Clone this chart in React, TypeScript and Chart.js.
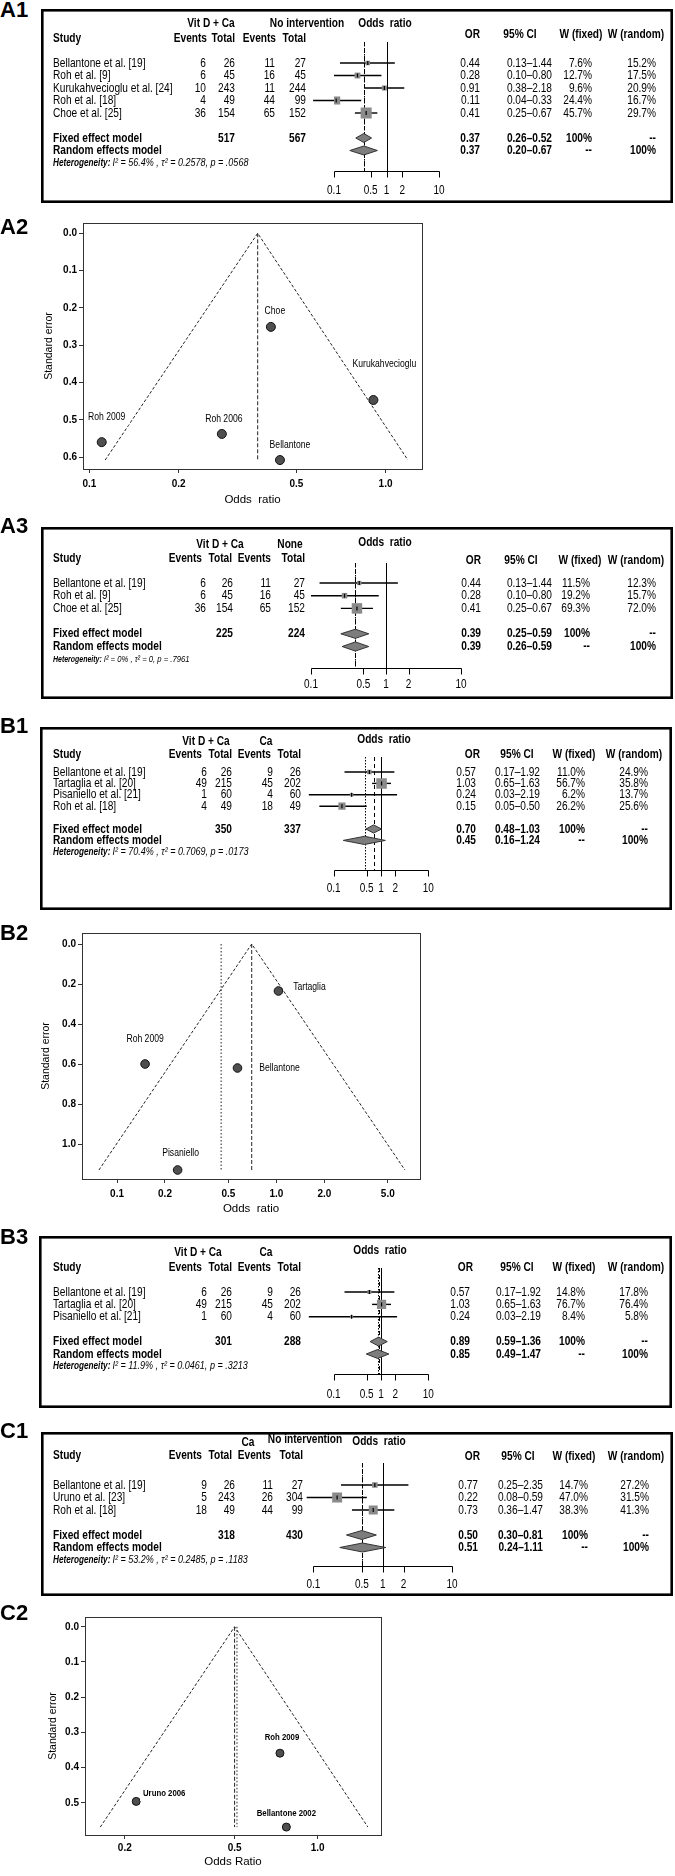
import React, { useEffect, useRef } from "react";
import { Chart, registerables } from "chart.js";

Chart.register(...registerables);

const FONT = '"Liberation Sans", Arial, Helvetica, sans-serif';
Chart.defaults.font.family = FONT;
Chart.defaults.color = "#000";

// ======================= DATA =======================
// ---- A1: Vit D + Ca vs no intervention (forest) ----
const a1Studies = ["Bellantone et al. [19]", "Roh et al. [9]", "Kurukahvecioglu et al. [24]", "Roh et al. [18]", "Choe et al. [25]"];
const a1EventsE = [6, 6, 10, 4, 36];
const a1TotalE = [26, 45, 243, 49, 154];
const a1EventsC = [11, 16, 11, 44, 65];
const a1TotalC = [27, 45, 244, 99, 152];
const a1OR = [0.44, 0.28, 0.91, 0.11, 0.41];
const a1Lower = [0.13, 0.1, 0.38, 0.04, 0.25];
const a1Upper = [1.44, 0.8, 2.18, 0.33, 0.67];
const a1WFixed = [7.6, 12.7, 9.6, 24.4, 45.7];
const a1WRandom = [15.2, 17.5, 20.9, 16.7, 29.7];
const a1Fixed = [0.37, 0.26, 0.52];
const a1Random = [0.37, 0.2, 0.67];
const a1Totals = [517, 567];
const a1Het = "I² = 56.4% , τ² = 0.2578, p = .0568";

// ---- A2: funnel ----
const a2Labels = ["Bellantone", "Roh 2006", "Kurukahvecioglu", "Roh 2009", "Choe"];
const a2OR = [0.44, 0.28, 0.91, 0.11, 0.41];
const a2SE = [0.608, 0.538, 0.447, 0.56, 0.251];
const a2FunnelOR = [0.113, 0.37, 1.19];
const a2FunnelSE = [0.608, 0, 0.608];
const a2Center = [0.37];
const a2XTicks = [0.1, 0.2, 0.5, 1.0];
const a2YTicks = [0, 0.1, 0.2, 0.3, 0.4, 0.5, 0.6];

// ---- A3: Vit D + Ca vs none (forest) ----
const a3Studies = ["Bellantone et al. [19]", "Roh et al. [9]", "Choe et al. [25]"];
const a3EventsE = [6, 6, 36];
const a3TotalE = [26, 45, 154];
const a3EventsC = [11, 16, 65];
const a3TotalC = [27, 45, 152];
const a3OR = [0.44, 0.28, 0.41];
const a3Lower = [0.13, 0.1, 0.25];
const a3Upper = [1.44, 0.8, 0.67];
const a3WFixed = [11.5, 19.2, 69.3];
const a3WRandom = [12.3, 15.7, 72.0];
const a3Fixed = [0.39, 0.25, 0.59];
const a3Random = [0.39, 0.26, 0.59];
const a3Totals = [225, 224];
const a3Het = "I² = 0% , τ² = 0, p = .7961";

// ---- B1: Vit D + Ca vs Ca (forest) ----
const b1Studies = ["Bellantone et al. [19]", "Tartaglia et al. [20]", "Pisaniello et al. [21]", "Roh et al. [18]"];
const b1EventsE = [6, 49, 1, 4];
const b1TotalE = [26, 215, 60, 49];
const b1EventsC = [9, 45, 4, 18];
const b1TotalC = [26, 202, 60, 49];
const b1OR = [0.57, 1.03, 0.24, 0.15];
const b1Lower = [0.17, 0.65, 0.03, 0.05];
const b1Upper = [1.92, 1.63, 2.19, 0.5];
const b1WFixed = [11.0, 56.7, 6.2, 26.2];
const b1WRandom = [24.9, 35.8, 13.7, 25.6];
const b1Fixed = [0.7, 0.48, 1.03];
const b1Random = [0.45, 0.16, 1.24];
const b1Totals = [350, 337];
const b1Het = "I² = 70.4% , τ² = 0.7069, p = .0173";

// ---- B2: funnel ----
const b2Labels = ["Bellantone", "Tartaglia", "Pisaniello", "Roh 2009"];
const b2OR = [0.57, 1.03, 0.24, 0.15];
const b2SE = [0.62, 0.235, 1.13, 0.6];
const b2FunnelOR = [0.077, 0.7, 6.4];
const b2FunnelSE = [1.13, 0, 1.13];
const b2Center = [0.7, 0.45];
const b2XTicks = [0.1, 0.2, 0.5, 1.0, 2.0, 5.0];
const b2YTicks = [0, 0.2, 0.4, 0.6, 0.8, 1.0];

// ---- B3: Vit D + Ca vs Ca (forest) ----
const b3Studies = ["Bellantone et al. [19]", "Tartaglia et al. [20]", "Pisaniello et al. [21]"];
const b3EventsE = [6, 49, 1];
const b3TotalE = [26, 215, 60];
const b3EventsC = [9, 45, 4];
const b3TotalC = [26, 202, 60];
const b3OR = [0.57, 1.03, 0.24];
const b3Lower = [0.17, 0.65, 0.03];
const b3Upper = [1.92, 1.63, 2.19];
const b3WFixed = [14.8, 76.7, 8.4];
const b3WRandom = [17.8, 76.4, 5.8];
const b3Fixed = [0.89, 0.59, 1.36];
const b3Random = [0.85, 0.49, 1.47];
const b3Totals = [301, 288];
const b3Het = "I² = 11.9% , τ² = 0.0461, p = .3213";

// ---- C1: Ca vs no intervention (forest) ----
const c1Studies = ["Bellantone et al. [19]", "Uruno et al. [23]", "Roh et al. [18]"];
const c1EventsE = [9, 5, 18];
const c1TotalE = [26, 243, 49];
const c1EventsC = [11, 26, 44];
const c1TotalC = [27, 304, 99];
const c1OR = [0.77, 0.22, 0.73];
const c1Lower = [0.25, 0.08, 0.36];
const c1Upper = [2.35, 0.59, 1.47];
const c1WFixed = [14.7, 47.0, 38.3];
const c1WRandom = [27.2, 31.5, 41.3];
const c1Fixed = [0.5, 0.3, 0.81];
const c1Random = [0.51, 0.24, 1.11];
const c1Totals = [318, 430];
const c1Het = "I² = 53.2% , τ² = 0.2485, p = .1183";

// ---- C2: funnel ----
const c2Labels = ["Bellantone 2002", "Uruno 2006", "Roh 2009"];
const c2OR = [0.77, 0.22, 0.73];
const c2SE = [0.569, 0.496, 0.359];
const c2FunnelOR = [0.163, 0.5, 1.52];
const c2FunnelSE = [0.569, 0, 0.569];
const c2Center = [0.5, 0.51];
const c2XTicks = [0.2, 0.5, 1.0];
const c2YTicks = [0, 0.1, 0.2, 0.3, 0.4, 0.5];

const forestTicks = [0.1, 0.5, 1, 2, 10];
const forestTickLabels = ["0.1", "0.5", "1", "2", "10"];

const panelLabels: [string, number][] = [
  ["A1", 2], ["A2", 219], ["A3", 518], ["B1", 718], ["B2", 925], ["B3", 1229], ["C1", 1423], ["C2", 1605],
];

// ======================= HELPERS =======================
type TOpt = { align?: CanvasTextAlign; bold?: boolean; italic?: boolean; size?: number; sx?: number };
function T(ctx: CanvasRenderingContext2D, s: string, x: number, y: number, o: TOpt = {}) {
  const size = o.size ?? 13;
  const sx = o.sx ?? 0.78;
  ctx.save();
  ctx.translate(x, y);
  ctx.scale(sx, 1);
  ctx.font = `${o.italic ? "italic " : ""}${o.bold ? "bold " : ""}${size}px ${FONT}`;
  ctx.textAlign = o.align ?? "left";
  ctx.textBaseline = "middle";
  ctx.fillStyle = "#000";
  ctx.fillText(s, 0, 0);
  const w = ctx.measureText(s).width * sx;
  ctx.restore();
  return w;
}
function vline(ctx: CanvasRenderingContext2D, x: number, y0: number, y1: number, dash: number[], w = 1) {
  ctx.save();
  ctx.strokeStyle = "#000";
  ctx.lineWidth = w;
  ctx.setLineDash(dash);
  const xx = Math.round(x) + 0.5;
  ctx.beginPath();
  ctx.moveTo(xx, y0);
  ctx.lineTo(xx, y1);
  ctx.stroke();
  ctx.restore();
}
const f2 = (v: number) => v.toFixed(2);
const ci = (a: number, b: number) => `${f2(a)}–${f2(b)}`;
const pct = (v: number) => `${v.toFixed(1)}%`;

// ======================= FOREST =======================
type ForestData = {
  studies: string[]; eE: number[]; tE: number[]; eC: number[]; tC: number[];
  or: number[]; lo: number[]; hi: number[]; wf: number[]; wr: number[];
  fixed: number[]; random: number[]; totals: number[]; het: string; g1: string; g2: string;
};
type ForestLayout = {
  box: { x: number; y: number; w: number; h: number };
  refTop: number; axisY: number; axisLabelY: number; x01: number; x10: number;
  row0: number; rowH: number; boxK: number;
  h1Y: number; g1Y?: number; g2Y?: number; orTitleY?: number; h2Y: number; hRY: number;
  col: { name: number; e1: number; t1: number; e2: number; t2: number; or: number; ci: number; wf: number; wr: number };
  hdr: { e1: number; t1: number; e2: number; t2: number; or: number; ci: number; wf: number; wr: number; g1: number; g2: number; orTitle: number };
  hetSize: number;
};

function forestPlugin(d: ForestData, L: ForestLayout) {
  const X = (a: number) => a - L.box.x;
  const Y = (a: number) => a - L.box.y;
  return {
    id: "forestDraw",
    beforeDatasetsDraw(chart: any) {
      const ctx: CanvasRenderingContext2D = chart.ctx;
      const xs = chart.scales.x, ys = chart.scales.y, ca = chart.chartArea;
      vline(ctx, xs.getPixelForValue(1), ca.top, ca.bottom, [], 1);
      vline(ctx, xs.getPixelForValue(d.fixed[0]), ca.top, ca.bottom, [4, 3], 1);
      vline(ctx, xs.getPixelForValue(d.random[0]), ca.top, ca.bottom, [1.5, 1.5], 1);
      ctx.save();
      ctx.strokeStyle = "#000";
      ctx.lineWidth = 1.4;
      d.or.forEach((_, i) => {
        const y = ys.getPixelForValue(i);
        ctx.beginPath();
        ctx.moveTo(xs.getPixelForValue(d.lo[i]), y);
        ctx.lineTo(xs.getPixelForValue(d.hi[i]), y);
        ctx.stroke();
      });
      ctx.restore();
    },
    afterDatasetsDraw(chart: any) {
      const ctx: CanvasRenderingContext2D = chart.ctx;
      const xs = chart.scales.x, ys = chart.scales.y, ca = chart.chartArea;
      const n = d.studies.length;
      const meta = chart.getDatasetMeta(0);
      ctx.save();
      ctx.strokeStyle = "#000";
      ctx.lineWidth = 1.2;
      meta.data.forEach((p: any) => {
        ctx.beginPath();
        ctx.moveTo(p.x, p.y - 2);
        ctx.lineTo(p.x, p.y + 2);
        ctx.stroke();
      });
      ctx.restore();
      // diamonds
      const dh = L.rowH * 0.36;
      [d.fixed, d.random].forEach((est, k) => {
        const y = ys.getPixelForValue(n + 1 + k);
        ctx.save();
        ctx.beginPath();
        ctx.moveTo(xs.getPixelForValue(est[1]), y);
        ctx.lineTo(xs.getPixelForValue(est[0]), y - dh);
        ctx.lineTo(xs.getPixelForValue(est[2]), y);
        ctx.lineTo(xs.getPixelForValue(est[0]), y + dh);
        ctx.closePath();
        ctx.fillStyle = "#7d7d7d";
        ctx.fill();
        ctx.strokeStyle = "#333";
        ctx.lineWidth = 1;
        ctx.stroke();
        ctx.restore();
      });
      // headers
      const B = { bold: true };
      T(ctx, d.g1, X(L.hdr.g1), Y(L.g1Y ?? L.h1Y), { ...B, align: "center" });
      T(ctx, d.g2, X(L.hdr.g2), Y(L.g2Y ?? L.h1Y), { ...B, align: "center" });
      T(ctx, "Odds  ratio", X(L.hdr.orTitle), Y(L.orTitleY ?? L.h1Y), { ...B, align: "center" });
      T(ctx, "Study", X(L.col.name), Y(L.h2Y), B);
      T(ctx, "Events", X(L.hdr.e1), Y(L.h2Y), { ...B, align: "right" });
      T(ctx, "Total", X(L.hdr.t1), Y(L.h2Y), { ...B, align: "right" });
      T(ctx, "Events", X(L.hdr.e2), Y(L.h2Y), { ...B, align: "right" });
      T(ctx, "Total", X(L.hdr.t2), Y(L.h2Y), { ...B, align: "right" });
      T(ctx, "OR", X(L.hdr.or), Y(L.hRY), { ...B, align: "right" });
      T(ctx, "95% CI", X(L.hdr.ci), Y(L.hRY), { ...B, align: "center" });
      T(ctx, "W (fixed)", X(L.hdr.wf), Y(L.hRY), { ...B, align: "center" });
      T(ctx, "W (random)", X(L.hdr.wr), Y(L.hRY), { ...B, align: "center" });
      // study rows
      d.studies.forEach((s, i) => {
        const y = ys.getPixelForValue(i);
        T(ctx, s, X(L.col.name), y);
        T(ctx, String(d.eE[i]), X(L.col.e1), y, { align: "right" });
        T(ctx, String(d.tE[i]), X(L.col.t1), y, { align: "right" });
        T(ctx, String(d.eC[i]), X(L.col.e2), y, { align: "right" });
        T(ctx, String(d.tC[i]), X(L.col.t2), y, { align: "right" });
        T(ctx, f2(d.or[i]), X(L.col.or), y, { align: "right" });
        T(ctx, ci(d.lo[i], d.hi[i]), X(L.col.ci), y, { align: "right" });
        T(ctx, pct(d.wf[i]), X(L.col.wf), y, { align: "right" });
        T(ctx, pct(d.wr[i]), X(L.col.wr), y, { align: "right" });
      });
      // pooled rows
      const yf = ys.getPixelForValue(n + 1);
      T(ctx, "Fixed effect model", X(L.col.name), yf, B);
      T(ctx, String(d.totals[0]), X(L.col.t1), yf, { ...B, align: "right" });
      T(ctx, String(d.totals[1]), X(L.col.t2), yf, { ...B, align: "right" });
      T(ctx, f2(d.fixed[0]), X(L.col.or), yf, { ...B, align: "right" });
      T(ctx, ci(d.fixed[1], d.fixed[2]), X(L.col.ci), yf, { ...B, align: "right" });
      T(ctx, "100%", X(L.col.wf), yf, { ...B, align: "right" });
      T(ctx, "--", X(L.col.wr), yf, { ...B, align: "right" });
      const yr = ys.getPixelForValue(n + 2);
      T(ctx, "Random effects model", X(L.col.name), yr, B);
      T(ctx, f2(d.random[0]), X(L.col.or), yr, { ...B, align: "right" });
      T(ctx, ci(d.random[1], d.random[2]), X(L.col.ci), yr, { ...B, align: "right" });
      T(ctx, "--", X(L.col.wf), yr, { ...B, align: "right" });
      T(ctx, "100%", X(L.col.wr), yr, { ...B, align: "right" });
      const yh = ys.getPixelForValue(n + 3);
      const wH = T(ctx, "Heterogeneity:", X(L.col.name), yh, { bold: true, italic: true, size: L.hetSize, sx: 0.82 });
      T(ctx, d.het, X(L.col.name) + wH + 2, yh, { italic: true, size: L.hetSize * 1.1, sx: 0.82 });
      // x axis (line at top, ticks down)
      ctx.save();
      ctx.strokeStyle = "#000";
      ctx.lineWidth = 1;
      const ay = Math.round(ca.bottom) + 0.5;
      ctx.beginPath();
      ctx.moveTo(Math.round(xs.getPixelForValue(forestTicks[0])) + 0.5, ay);
      ctx.lineTo(Math.round(xs.getPixelForValue(forestTicks[forestTicks.length - 1])) + 0.5, ay);
      forestTicks.forEach((t) => {
        const x = Math.round(xs.getPixelForValue(t)) + 0.5;
        ctx.moveTo(x, ay);
        ctx.lineTo(x, ay + 6);
      });
      ctx.stroke();
      ctx.restore();
      forestTicks.forEach((t, i) => {
        T(ctx, forestTickLabels[i], xs.getPixelForValue(t), Y(L.axisLabelY), { align: "center", size: 12.5, sx: 0.8 });
      });
      // frame
      ctx.save();
      ctx.strokeStyle = "#000";
      ctx.lineWidth = 2.6;
      ctx.strokeRect(1.3, 1.3, L.box.w - 2.6, L.box.h - 2.6);
      ctx.restore();
    },
  };
}

function ForestChart({ d, L }: { d: ForestData; L: ForestLayout }) {
  const ref = useRef<HTMLCanvasElement>(null);
  useEffect(() => {
    const top = L.refTop - L.box.y;
    const bottom = L.axisY - L.box.y;
    const row0 = L.row0 - L.box.y;
    const chart = new Chart(ref.current as HTMLCanvasElement, {
      type: "scatter",
      data: {
        datasets: [
          {
            data: d.or.map((x, i) => ({ x, y: i })),
            pointStyle: "rect",
            pointRadius: d.wf.map((w) => (L.boxK * Math.sqrt(w)) / Math.SQRT2),
            pointHoverRadius: d.wf.map((w) => (L.boxK * Math.sqrt(w)) / Math.SQRT2),
            backgroundColor: "#8a8a8a",
            borderWidth: 0,
          },
        ],
      },
      options: {
        animation: false,
        responsive: false,
        devicePixelRatio: 1,
        events: [],
        layout: {
          padding: { left: L.x01 - L.box.x, right: L.box.x + L.box.w - L.x10, top, bottom: L.box.h - bottom },
        },
        scales: {
          x: { type: "logarithmic", min: forestTicks[0], max: forestTicks[forestTicks.length - 1], display: false },
          y: { type: "linear", min: (top - row0) / L.rowH, max: (bottom - row0) / L.rowH, reverse: true, display: false },
        },
        plugins: { legend: { display: false }, tooltip: { enabled: false } },
      },
      plugins: [forestPlugin(d, L)],
    } as any);
    return () => chart.destroy();
  }, []);
  return (
    <canvas
      ref={ref}
      width={L.box.w}
      height={L.box.h}
      style={{ position: "absolute", left: L.box.x, top: L.box.y, width: L.box.w, height: L.box.h }}
    />
  );
}

// ======================= FUNNEL =======================
type FunnelCfg = {
  canvas: { left: number; top: number; width: number; height: number };
  area: { left: number; top: number; right: number; bottom: number };
  xMin: number; xMax: number; yMin: number; yMax: number;
  xTicks: number[]; yTicks: number[];
  or: number[]; se: number[]; labels: string[];
  funnelOR: number[]; funnelSE: number[]; center: number[];
  xTitle: string; xTitleY: number; yTitleX: number;
  r: number; xTickPad: number;
  labelSize: number; labelBold: boolean; labelOffsets: [number, number][];
};

function funnelPlugin(c: FunnelCfg) {
  return {
    id: "funnelDraw",
    afterDatasetsDraw(chart: any) {
      const ctx: CanvasRenderingContext2D = chart.ctx;
      const meta = chart.getDatasetMeta(0);
      meta.data.forEach((p: any, i: number) => {
        const [dx, dy] = c.labelOffsets[i];
        const x = p.x + dx, y = p.y + dy;
        ctx.save();
        ctx.font = `${c.labelBold ? "bold " : ""}${c.labelSize}px ${FONT}`;
        const w = ctx.measureText(c.labels[i]).width * 0.82;
        ctx.fillStyle = "#fff";
        ctx.fillRect(x - w / 2 - 3, y - c.labelSize * 0.6 - 2, w + 6, c.labelSize * 1.2 + 4);
        ctx.restore();
        T(ctx, c.labels[i], x, y, { align: "center", size: c.labelSize, bold: c.labelBold, sx: 0.82 });
      });
    },
    afterDraw(chart: any) {
      const ctx: CanvasRenderingContext2D = chart.ctx;
      const ca = chart.chartArea;
      ctx.save();
      ctx.strokeStyle = "#333";
      ctx.lineWidth = 1;
      ctx.strokeRect(Math.round(ca.left) + 0.5, Math.round(ca.top) + 0.5, Math.round(ca.right - ca.left), Math.round(ca.bottom - ca.top));
      ctx.restore();
    },
  };
}

function FunnelChart({ c }: { c: FunnelCfg }) {
  const ref = useRef<HTMLCanvasElement>(null);
  const cv = c.canvas;
  useEffect(() => {
    const ar = c.area;
    const xTitleSize = 11.5, yTitleSize = 10.5;
    const seMax = Math.max(...c.funnelSE);
    const centerSets = c.center.map((v, k) => ({
      data: [{ x: v, y: 0 }, { x: v, y: seMax }],
      showLine: true,
      pointRadius: 0,
      borderColor: "#222",
      borderWidth: 1,
      borderDash: k === 0 ? [4, 2] : [1.5, 2],
    }));
    const chart = new Chart(ref.current as HTMLCanvasElement, {
      type: "scatter",
      data: {
        datasets: [
          {
            data: c.or.map((x, i) => ({ x, y: c.se[i] })),
            pointRadius: c.r,
            pointHoverRadius: c.r,
            backgroundColor: "#4f4f4f",
            borderColor: "#111",
            borderWidth: 1,
          },
          {
            data: c.funnelOR.map((x, i) => ({ x, y: c.funnelSE[i] })),
            showLine: true,
            pointRadius: 0,
            borderColor: "#222",
            borderWidth: 1,
            borderDash: [3, 2],
          },
          ...centerSets,
        ],
      },
      options: {
        animation: false,
        responsive: false,
        devicePixelRatio: 1,
        events: [],
        layout: { padding: { left: 0, bottom: 0, top: ar.top - cv.top, right: cv.left + cv.width - ar.right } },
        plugins: { legend: { display: false }, tooltip: { enabled: false } },
        scales: {
          x: {
            type: "logarithmic",
            position: "bottom",
            min: c.xMin,
            max: c.xMax,
            afterBuildTicks: (ax: any) => {
              ax.ticks = c.xTicks.map((v) => ({ value: v }));
            },
            afterFit: (ax: any) => {
              ax.height = cv.top + cv.height - ar.bottom;
            },
            ticks: {
              autoSkip: false,
              maxRotation: 0,
              minRotation: 0,
              padding: c.xTickPad,
              color: "#000",
              font: { family: FONT, size: 10, weight: "bold" },
              callback: (v: any) => Number(v).toFixed(1),
            },
            grid: { drawOnChartArea: false, drawTicks: true, tickLength: 4, color: "#333", lineWidth: 1 },
            border: { display: false },
            title: {
              display: true,
              text: c.xTitle,
              color: "#000",
              font: { family: FONT, size: xTitleSize },
              padding: { top: 0, bottom: cv.height - (c.xTitleY - cv.top) - (xTitleSize * 1.2) / 2 },
            },
          },
          y: {
            type: "linear",
            position: "left",
            reverse: true,
            min: c.yMin,
            max: c.yMax,
            afterBuildTicks: (ax: any) => {
              ax.ticks = c.yTicks.map((v) => ({ value: v }));
            },
            afterFit: (ax: any) => {
              ax.width = ar.left - cv.left;
            },
            ticks: {
              autoSkip: false,
              padding: 2,
              color: "#000",
              font: { family: FONT, size: 10, weight: "bold" },
              callback: (v: any) => Number(v).toFixed(1),
            },
            grid: { drawOnChartArea: false, drawTicks: true, tickLength: 4, color: "#333", lineWidth: 1 },
            border: { display: false },
            title: {
              display: true,
              text: "Standard error",
              color: "#000",
              font: { family: FONT, size: yTitleSize },
              padding: { top: c.yTitleX - cv.left - (yTitleSize * 1.2) / 2, bottom: 0 },
            },
          },
        },
      },
      plugins: [funnelPlugin(c)],
    } as any);
    return () => chart.destroy();
  }, []);
  return (
    <canvas
      ref={ref}
      width={cv.width}
      height={cv.height}
      style={{ position: "absolute", left: cv.left, top: cv.top, width: cv.width, height: cv.height }}
    />
  );
}

// ======================= CONFIGS =======================
const a1: ForestData = {
  studies: a1Studies, eE: a1EventsE, tE: a1TotalE, eC: a1EventsC, tC: a1TotalC,
  or: a1OR, lo: a1Lower, hi: a1Upper, wf: a1WFixed, wr: a1WRandom,
  fixed: a1Fixed, random: a1Random, totals: a1Totals, het: a1Het, g1: "Vit D + Ca", g2: "No intervention",
};
const a1L: ForestLayout = {
  box: { x: 41, y: 9, w: 632, h: 194 },
  refTop: 42, axisY: 171, axisLabelY: 191, x01: 334, x10: 439,
  row0: 63, rowH: 12.5, boxK: 1.63,
  h1Y: 23, h2Y: 38, hRY: 34,
  col: { name: 53, e1: 206, t1: 235, e2: 275, t2: 306, or: 480, ci: 552, wf: 592, wr: 656 },
  hdr: { e1: 207, t1: 235, e2: 276, t2: 306, or: 480, ci: 520, wf: 581, wr: 636, g1: 211, g2: 307, orTitle: 385 },
  hetSize: 10,
};

const a3: ForestData = {
  studies: a3Studies, eE: a3EventsE, tE: a3TotalE, eC: a3EventsC, tC: a3TotalC,
  or: a3OR, lo: a3Lower, hi: a3Upper, wf: a3WFixed, wr: a3WRandom,
  fixed: a3Fixed, random: a3Random, totals: a3Totals, het: a3Het, g1: "Vit D + Ca", g2: "None",
};
const a3L: ForestLayout = {
  box: { x: 41, y: 527, w: 632, h: 172 },
  refTop: 563, axisY: 668, axisLabelY: 685, x01: 311, x10: 461,
  row0: 583, rowH: 12.7, boxK: 1.26,
  h1Y: 544, h2Y: 558, hRY: 560, orTitleY: 542,
  col: { name: 53, e1: 206, t1: 233, e2: 271, t2: 305, or: 481, ci: 552, wf: 590, wr: 656 },
  hdr: { e1: 202, t1: 232, e2: 271, t2: 305, or: 481, ci: 521, wf: 580, wr: 636, g1: 220, g2: 290, orTitle: 385 },
  hetSize: 8.5,
};

const b1: ForestData = {
  studies: b1Studies, eE: b1EventsE, tE: b1TotalE, eC: b1EventsC, tC: b1TotalC,
  or: b1OR, lo: b1Lower, hi: b1Upper, wf: b1WFixed, wr: b1WRandom,
  fixed: b1Fixed, random: b1Random, totals: b1Totals, het: b1Het, g1: "Vit D + Ca", g2: "Ca",
};
const b1L: ForestLayout = {
  box: { x: 40, y: 727, w: 632, h: 183 },
  refTop: 757, axisY: 870, axisLabelY: 889, x01: 333.6, x10: 428.3,
  row0: 772, rowH: 11.4, boxK: 1.4,
  h1Y: 741, h2Y: 754, hRY: 754, orTitleY: 739,
  col: { name: 53, e1: 207, t1: 232, e2: 273, t2: 301, or: 476, ci: 540, wf: 585, wr: 648 },
  hdr: { e1: 202, t1: 232, e2: 271, t2: 301, or: 480, ci: 517, wf: 574, wr: 634, g1: 206, g2: 266, orTitle: 384 },
  hetSize: 10,
};

const b3: ForestData = {
  studies: b3Studies, eE: b3EventsE, tE: b3TotalE, eC: b3EventsC, tC: b3TotalC,
  or: b3OR, lo: b3Lower, hi: b3Upper, wf: b3WFixed, wr: b3WRandom,
  fixed: b3Fixed, random: b3Random, totals: b3Totals, het: b3Het, g1: "Vit D + Ca", g2: "Ca",
};
const b3L: ForestLayout = {
  box: { x: 39, y: 1236, w: 633, h: 172 },
  refTop: 1268, axisY: 1374, axisLabelY: 1395, x01: 333.6, x10: 428.3,
  row0: 1292, rowH: 12.4, boxK: 1.05,
  h1Y: 1252, h2Y: 1267, hRY: 1267, orTitleY: 1250,
  col: { name: 53, e1: 207, t1: 232, e2: 273, t2: 301, or: 470, ci: 541, wf: 585, wr: 648 },
  hdr: { e1: 202, t1: 232, e2: 271, t2: 301, or: 473, ci: 517, wf: 574, wr: 636, g1: 198, g2: 266, orTitle: 380 },
  hetSize: 10,
};

const c1: ForestData = {
  studies: c1Studies, eE: c1EventsE, tE: c1TotalE, eC: c1EventsC, tC: c1TotalC,
  or: c1OR, lo: c1Lower, hi: c1Upper, wf: c1WFixed, wr: c1WRandom,
  fixed: c1Fixed, random: c1Random, totals: c1Totals, het: c1Het, g1: "Ca", g2: "No intervention",
};
const c1L: ForestLayout = {
  box: { x: 41, y: 1432, w: 632, h: 164 },
  refTop: 1463, axisY: 1566, axisLabelY: 1585, x01: 313.4, x10: 452,
  row0: 1485, rowH: 12.5, boxK: 1.45,
  h1Y: 1440, g1Y: 1442, g2Y: 1439, orTitleY: 1441, h2Y: 1455, hRY: 1456,
  col: { name: 53, e1: 207, t1: 235, e2: 273, t2: 303, or: 478, ci: 543, wf: 588, wr: 649 },
  hdr: { e1: 202, t1: 232, e2: 271, t2: 303, or: 480, ci: 518, wf: 574, wr: 636, g1: 248, g2: 305, orTitle: 379 },
  hetSize: 10,
};

const a2: FunnelCfg = {
  canvas: { left: 0, top: 210, width: 440, height: 300 },
  area: { left: 83, top: 223, right: 422, bottom: 469 },
  xMin: 0.0951, xMax: 1.328, yMin: -0.0276, yMax: 0.632,
  xTicks: a2XTicks, yTicks: a2YTicks,
  or: a2OR, se: a2SE, labels: a2Labels,
  funnelOR: a2FunnelOR, funnelSE: a2FunnelSE, center: a2Center,
  xTitle: "Odds  ratio", xTitleY: 500, yTitleX: 49.5,
  r: 4.5, xTickPad: 5,
  labelSize: 10.5, labelBold: false,
  labelOffsets: [[10, -15], [2, -15], [11, -36], [5, -25], [4, -16]],
};
const b2: FunnelCfg = {
  canvas: { left: 0, top: 920, width: 440, height: 300 },
  area: { left: 82, top: 933, right: 420, bottom: 1179 },
  xMin: 0.0603, xMax: 7.96, yMin: -0.055, yMax: 1.175,
  xTicks: b2XTicks, yTicks: b2YTicks,
  or: b2OR, se: b2SE, labels: b2Labels,
  funnelOR: b2FunnelOR, funnelSE: b2FunnelSE, center: b2Center,
  xTitle: "Odds  ratio", xTitleY: 1209, yTitleX: 46.5,
  r: 4.3, xTickPad: 5,
  labelSize: 10.5, labelBold: false,
  labelOffsets: [[42, 0], [31, -4], [3, -17], [0, -25]],
};
const c2: FunnelCfg = {
  canvas: { left: 0, top: 1604, width: 400, height: 272 },
  area: { left: 85, top: 1617, right: 381, bottom: 1835 },
  xMin: 0.1435, xMax: 1.696, yMin: -0.0278, yMax: 0.5915,
  xTicks: c2XTicks, yTicks: c2YTicks,
  or: c2OR, se: c2SE, labels: c2Labels,
  funnelOR: c2FunnelOR, funnelSE: c2FunnelSE, center: c2Center,
  xTitle: "Odds Ratio", xTitleY: 1862, yTitleX: 53,
  r: 4, xTickPad: 3,
  labelSize: 9.5, labelBold: true,
  labelOffsets: [[0, -14], [28, -8], [2, -16]],
};

export default function App() {
  useEffect(() => {
    document.body.style.margin = "0";
    document.body.style.background = "#fff";
  }, []);
  return (
    <div style={{ position: "absolute", left: 0, top: 0, width: 675, height: 1876, background: "#fff", overflow: "hidden" }}>
      <ForestChart d={a1} L={a1L} />
      <FunnelChart c={a2} />
      <ForestChart d={a3} L={a3L} />
      <ForestChart d={b1} L={b1L} />
      <FunnelChart c={b2} />
      <ForestChart d={b3} L={b3L} />
      <ForestChart d={c1} L={c1L} />
      <FunnelChart c={c2} />
      {panelLabels.map(([t, y]) => (
        <div
          key={t}
          style={{ position: "absolute", left: 0, top: y - 3, font: `bold 22px ${FONT}`, lineHeight: "22px", color: "#000" }}
        >
          {t}
        </div>
      ))}
    </div>
  );
}
